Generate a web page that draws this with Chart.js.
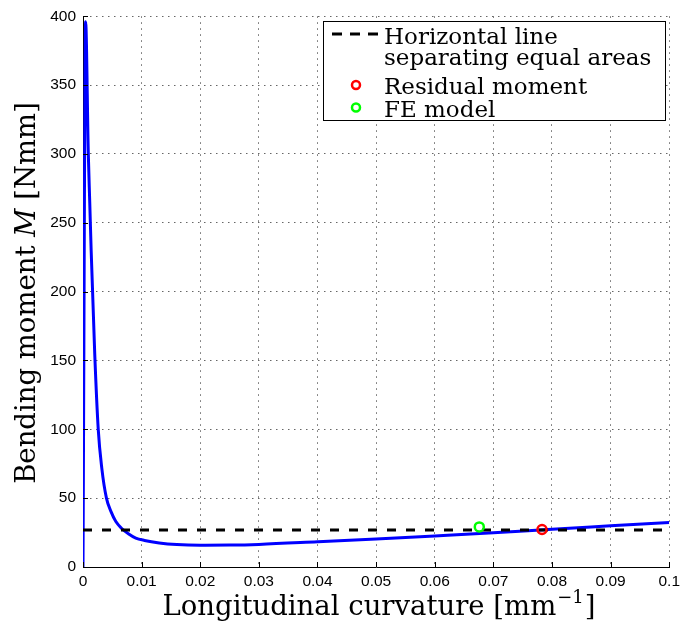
<!DOCTYPE html>
<html><head><meta charset="utf-8">
<script src="https://cdn.jsdelivr.net/npm/chart.js@4/dist/chart.umd.min.js"></script>
<style>html,body{margin:0;padding:0;background:#fff}</style>
</head><body>
<canvas id="c" width="685" height="629"></canvas>
<script>
// ---- data ----
const curvature = [0, 0.00045, 0.0009, 0.00115, 0.0014, 0.002, 0.0026, 0.0032, 0.004, 0.0048, 0.0056, 0.0066, 0.0078, 0.009, 0.0105, 0.013, 0.016, 0.02, 0.025, 0.03, 0.04, 0.05, 0.06, 0.07, 0.08, 0.09, 0.1];
const bendingMoment = [0, 396, 301, 265, 229, 155, 100, 72, 50, 40, 33, 28, 24, 21, 19.3, 17.5, 16.3, 15.8, 15.9, 16.4, 18.3, 20.3, 22.5, 24.8, 27.5, 29.9, 32.3];
const equalAreaX = [0, 0.1];
const equalAreaY = [26.8, 26.8];
const residualX = [0.0783];
const residualY = [27.2];
const feX = [0.0676];
const feY = [29.1];
const xTickValues = [0, 0.01, 0.02, 0.03, 0.04, 0.05, 0.06, 0.07, 0.08, 0.09, 0.1];
const yTickValues = [0, 50, 100, 150, 200, 250, 300, 350, 400];
const legendTexts = [["Horizontal line", "separating equal areas"], ["Residual moment"], ["FE model"]];

const pts = (xs, ys) => xs.map((x, i) => ({x: x, y: ys[i]}));

const SERIF = '"DejaVu Serif", "Liberation Serif", serif';

const decorPlugin = {
  id: 'decor',
  afterDraw(chart) {
    const ctx = chart.ctx;
    const a = chart.chartArea;
    const xs = chart.scales.x, ys = chart.scales.y;
    ctx.save();
    // inward tick marks
    ctx.strokeStyle = '#000';
    ctx.lineWidth = 1;
    ctx.beginPath();
    xTickValues.forEach(v => {
      const p = Math.round(xs.getPixelForValue(v)) + 0.5;
      ctx.moveTo(p, a.bottom); ctx.lineTo(p, a.bottom - 5);
    });
    yTickValues.forEach(v => {
      const p = Math.round(ys.getPixelForValue(v)) + 0.5;
      ctx.moveTo(a.left, p); ctx.lineTo(a.left + 5, p);
    });
    ctx.stroke();

    // axis titles
    ctx.fillStyle = '#000';
    ctx.textBaseline = 'alphabetic';
    const fMain = '27.5px ' + SERIF;
    const fSup = '18px ' + SERIF;
    ctx.font = fMain;
    const t1 = 'Longitudinal curvature [mm';
    const w1 = ctx.measureText(t1).width;
    const w3 = ctx.measureText(']').width;
    ctx.font = fSup;
    const w2 = ctx.measureText('\u22121').width + 2;
    const total = w1 + w2 + w3;
    let x0 = 379 - total / 2;
    const by = 615;
    ctx.font = fMain; ctx.textAlign = 'left';
    ctx.fillText(t1, x0, by);
    ctx.font = fSup;
    ctx.fillText('\u22121', x0 + w1 + 1, by - 12);
    ctx.font = fMain;
    ctx.fillText(']', x0 + w1 + w2, by);

    // y title (rotated)
    const parts = [['Bending moment ', fMain], ['M', 'italic 27.5px ' + SERIF], [' [Nmm]', fMain]];
    let tw = 0;
    parts.forEach(p => { ctx.font = p[1]; tw += ctx.measureText(p[0]).width; });
    ctx.translate(35, 293);
    ctx.rotate(-Math.PI / 2);
    let cx = -tw / 2;
    parts.forEach(p => { ctx.font = p[1]; ctx.fillText(p[0], cx, 0); cx += ctx.measureText(p[0]).width; });
    ctx.setTransform(1, 0, 0, 1, 0, 0);

    // legend box
    const L = 323.5, T = 21.5, W = 342, H = 99;
    ctx.fillStyle = '#fff';
    ctx.fillRect(L, T, W, H);
    ctx.strokeStyle = '#000'; ctx.lineWidth = 1;
    ctx.strokeRect(L, T, W, H);
    ctx.save();
    ctx.strokeStyle = '#000'; ctx.lineWidth = 3; ctx.setLineDash([10, 8]);
    ctx.beginPath(); ctx.moveTo(332, 34); ctx.lineTo(380, 34); ctx.stroke();
    ctx.restore();
    const circ = (x, y, c) => { ctx.beginPath(); ctx.arc(x, y, 4, 0, Math.PI * 2); ctx.strokeStyle = c; ctx.lineWidth = 2.5; ctx.stroke(); };
    circ(356, 85, '#ff0000');
    circ(356, 107.5, '#00ff00');
    ctx.fillStyle = '#000';
    ctx.font = '23px ' + SERIF;
    ctx.textAlign = 'left';
    ctx.fillText(legendTexts[0][0], 384, 44);
    ctx.fillText(legendTexts[0][1], 384, 65);
    ctx.fillText(legendTexts[1][0], 384, 94);
    ctx.fillText(legendTexts[2][0], 384, 117);
    ctx.restore();
  }
};

new Chart(document.getElementById('c'), {
  type: 'line',
  data: {
    datasets: [
      { label: 'Residual moment', data: pts(residualX, residualY), showLine: false, order: 0,
        pointRadius: 4.5, pointBorderWidth: 2.5, pointBorderColor: '#ff0000', pointBackgroundColor: 'rgba(0,0,0,0)' },
      { label: 'FE model', data: pts(feX, feY), showLine: false, order: 0,
        pointRadius: 4.5, pointBorderWidth: 2.5, pointBorderColor: '#00ff00', pointBackgroundColor: 'rgba(0,0,0,0)' },
      { label: 'Horizontal line separating equal areas', data: pts(equalAreaX, equalAreaY), order: 1,
        borderColor: '#000', borderWidth: 3, borderDash: [9, 10], pointRadius: 0, fill: false },
      { label: 'Moment-curvature', data: pts(curvature, bendingMoment), order: 2,
        borderColor: '#0000ff', borderWidth: 3, pointRadius: 0, fill: false, cubicInterpolationMode: 'monotone' }
    ]
  },
  options: {
    responsive: false,
    animation: false,
    devicePixelRatio: 1,
    layout: { padding: { top: 13, right: 14, left: 0, bottom: 0 } },
    plugins: { legend: { display: false }, tooltip: { enabled: false } },
    scales: {
      x: {
        type: 'linear', min: 0, max: 0.1,
        afterFit: s => { s.height = 62; },
        afterBuildTicks: s => { s.ticks = xTickValues.map(v => ({value: v})); },
        ticks: { color: '#000', padding: 5, maxRotation: 0, autoSkip: false,
          font: { family: '"Liberation Sans", Arial, sans-serif', size: 15.5 },
          callback: v => String(+v.toFixed(2)) },
        grid: { color: '#666', lineWidth: 1, drawTicks: false },
        border: { display: true, color: '#000', width: 1, dash: [1.5, 4.5] }
      },
      y: {
        type: 'linear', min: 0, max: 400,
        afterFit: s => { s.width = 83; },
        afterBuildTicks: s => { s.ticks = yTickValues.map(v => ({value: v})); },
        ticks: { color: '#000', padding: 7,
          font: { family: '"Liberation Sans", Arial, sans-serif', size: 15.5 } },
        grid: { color: '#666', lineWidth: 1, drawTicks: false },
        border: { display: true, color: '#000', width: 1, dash: [1.5, 4.5] }
      }
    }
  },
  plugins: [decorPlugin]
});
</script>
</body></html>
